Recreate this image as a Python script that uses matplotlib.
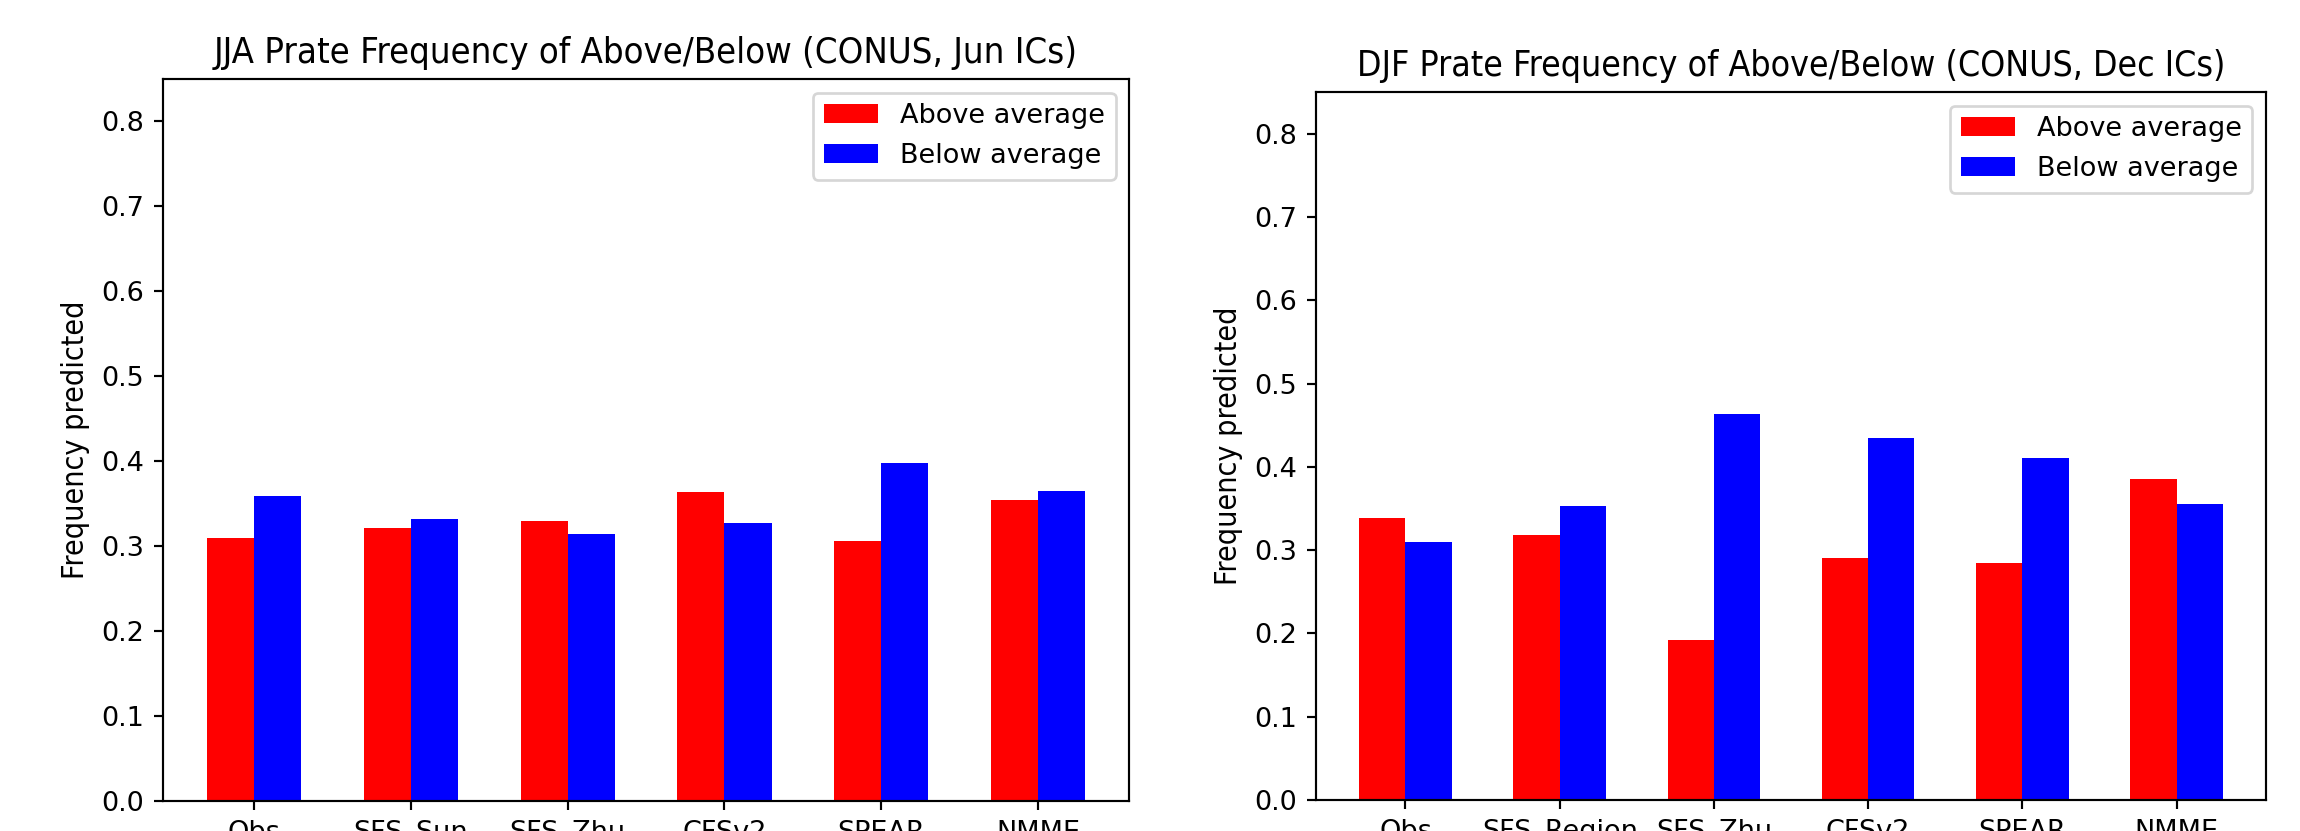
## Frequency of above / below average precipitation rate, JJA and DJF ##

import numpy as np
import matplotlib.pyplot as plt


# Models for each season
models_jja = ['Obs', 'SFS_Sun', 'SFS_Zhu', 'CFSv2', 'SPEAR', 'NMME']
models_djf = ['Obs', 'SFS_Region', 'SFS_Zhu', 'CFSv2', 'SPEAR', 'NMME']

# Frequencies
above_jja = [0.310, 0.322, 0.330, 0.364, 0.306, 0.354]
below_jja = [0.359, 0.332, 0.314, 0.327, 0.398, 0.365]

above_djf = [0.339, 0.318, 0.192, 0.290, 0.284, 0.385]
below_djf = [0.310, 0.353, 0.464, 0.435, 0.411, 0.355]

titles = ['JJA Prate Frequency of Above/Below (CONUS, Jun ICs)',
          'DJF Prate Frequency of Above/Below (CONUS, Dec ICs)']


dpi = 195
fig = plt.figure(figsize=(2300/dpi, 831/dpi), dpi=dpi)

ax1 = fig.add_axes([0.0709, 0.0361, 0.420, 0.8688])
ax2 = fig.add_axes([0.5722, 0.0373, 0.413, 0.8520])

width = 0.3

# the x tick labels are cut by the bottom edge, as in the original screenshot
for ax, models, above, below, title, fs in [(ax1, models_jja, above_jja, below_jja, titles[0], 13.4),
                                            (ax2, models_djf, above_djf, below_djf, titles[1], 13.1)]:
    x = np.arange(len(models))
    ax.bar(x - width/2, above, width, color='red', label='Above average')
    ax.bar(x + width/2, below, width, color='blue', label='Below average')
    ax.set_xticks(x)
    ax.set_xticklabels(models)
    ax.set_ylim(0, 0.85)
    ax.set_ylabel('Frequency predicted', fontstretch='condensed', fontsize=11.2)
    ax.set_title(title, fontstretch='condensed', fontsize=fs)
    ax.legend(loc='upper right')

fig.savefig('out.png', dpi=dpi)
